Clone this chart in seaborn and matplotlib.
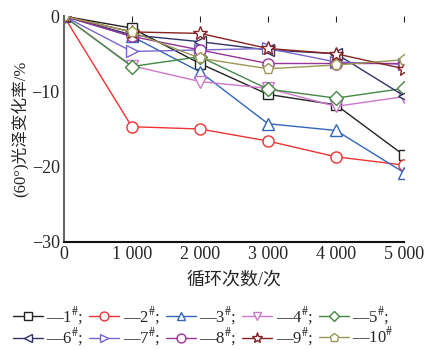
import numpy as np
import pandas as pd
import matplotlib
matplotlib.use("Agg")
import matplotlib.pyplot as plt
from matplotlib.ticker import MultipleLocator, FuncFormatter
import seaborn as sns

cycles = [0, 1000, 2000, 3000, 4000, 5000]
s1 = [0, -1.6, -6.3, -10.4, -11.8, -18.5]
s2 = [0, -14.7, -15.0, -16.6, -18.7, -19.8]
s3 = [0, -2.7, -7.4, -14.3, -15.2, -20.8]
s4 = [0, -6.6, -8.7, -9.6, -12.0, -10.7]
s5 = [0, -6.7, -5.4, -9.7, -10.9, -9.6]
s6 = [0, -2.5, -3.4, -4.5, -5.0, -10.6]
s7 = [0, -4.7, -4.5, -4.3, -6.1, -6.4]
s8 = [0, -2.7, -4.5, -6.3, -6.3, -6.3]
s9 = [0, -2.1, -2.3, -4.3, -5.0, -7.0]
s10 = [0, -2.1, -5.6, -7.0, -6.5, -5.8]

series = [s1, s2, s3, s4, s5, s6, s7, s8, s9, s10]
names = ["1", "2", "3", "4", "5", "6", "7", "8", "9", "10"]
colors = ["#222222", "#ee3333", "#3366bb", "#cc77cc", "#448844",
          "#333366", "#7766cc", "#993399", "#882222", "#999955"]
markers = ["s", "o", "^", "v", "D", "<", ">", "o", "*", "p"]
msizes = [7, 8, 8, 8, 7, 8, 8, 8, 10, 8]

sns.set_style("white")
plt.rcParams["font.family"] = ["Liberation Serif", "Noto Sans CJK SC"]
plt.rcParams["mathtext.fontset"] = "stix"

fig = plt.figure(figsize=(4.34, 3.5), dpi=100)
ax = fig.add_axes([0.147, 0.309, 0.784, 0.645])

for s, n, c, m, ms in zip(series, names, colors, markers, msizes):
    df = pd.DataFrame({"x": cycles, "y": s})
    sns.lineplot(data=df, x="x", y="y", ax=ax, color=c, marker=m, markersize=ms,
                 markerfacecolor="white", markeredgecolor=c, markeredgewidth=1,
                 linewidth=1, label=n)

ax.set_xlim(0, 5000)
ax.set_ylim(-30, 0)
ax.xaxis.set_major_locator(MultipleLocator(1000))
ax.xaxis.set_minor_locator(MultipleLocator(500))
ax.yaxis.set_major_locator(MultipleLocator(10))
ax.yaxis.set_minor_locator(MultipleLocator(5))
ax.xaxis.set_major_formatter(FuncFormatter(
    lambda v, p: "0" if v == 0 else f"{int(v)//1000} {int(v)%1000:03d}"))
ax.yaxis.set_major_formatter(FuncFormatter(lambda v, p: f"{int(v)}".replace("-", "\u2212")))

ax.spines["top"].set_visible(False)
ax.spines["right"].set_visible(False)
ax.spines["left"].set_color("#666666")
ax.spines["left"].set_linewidth(1.5)
ax.spines["bottom"].set_color("#111111")
ax.spines["bottom"].set_linewidth(1.5)
ax.tick_params(which="both", direction="in", top=True, labelsize=13, pad=3)
ax.tick_params(which="major", length=4)
ax.tick_params(which="minor", length=3, top=False)

ax.set_xlabel("循环次数/次", fontsize=13, labelpad=6)
ax.set_ylabel("(60°)光泽变化率/%", fontsize=12, labelpad=2)

handles, _ = ax.get_legend_handles_labels()
labels = [f"—{n}$^{{\\#}}$;" for n in names[:-1]] + ["—10$^{\\#}$"]
order = [0, 5, 1, 6, 2, 7, 3, 8, 4, 9]
ax.legend([handles[i] for i in order], [labels[i] for i in order], ncol=5,
          loc="upper center", bbox_to_anchor=(0.41, -0.25),
          frameon=False, fontsize=12, handlelength=1.8, handletextpad=0.2,
          columnspacing=0.35, labelspacing=0.0, borderaxespad=0, markerscale=0.8)

fig.savefig("out.png", dpi=100)
